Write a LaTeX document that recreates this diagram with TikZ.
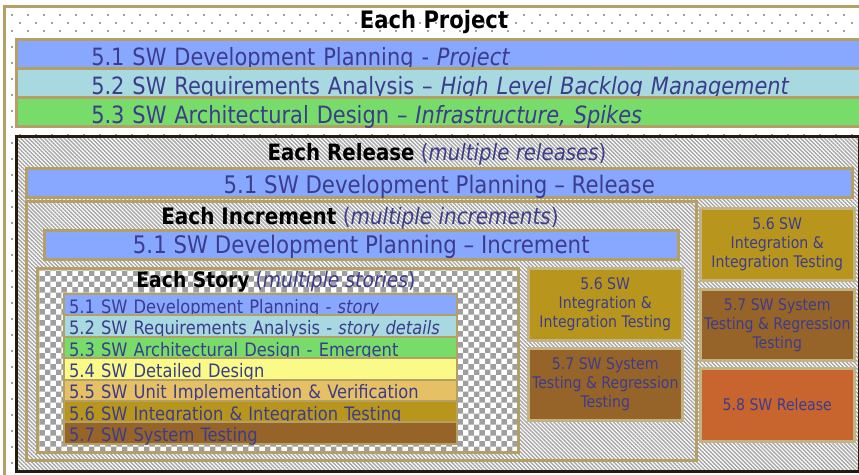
\documentclass[tikz,border=0pt]{standalone}
\usepackage{fontspec}
\setmainfont{DejaVu Sans}[FakeStretch=0.88]
\usetikzlibrary{patterns, patterns.meta}
\definecolor{wftan}{HTML}{B4A064}
\definecolor{wfblack}{HTML}{241C0C}
\definecolor{wftext}{HTML}{3C3C8C}
\definecolor{wfdot}{HTML}{A0A0A0}
\definecolor{plan}{HTML}{88A8FF}
\definecolor{reqs}{HTML}{A8D8E0}
\definecolor{arch}{HTML}{78DC6A}
\definecolor{detail}{HTML}{FAFA88}
\definecolor{unit}{HTML}{E6C064}
\definecolor{integ}{HTML}{B8961E}
\definecolor{systest}{HTML}{966428}
\definecolor{swrel}{HTML}{C8642E}
\newcommand{\rowfont}{\fontsize{23.8}{26}\selectfont}
\newcommand{\barfont}{\fontsize{24.2}{26}\selectfont}
\newcommand{\storyfont}{\fontsize{18.5}{20}\selectfont}
\newcommand{\boxfont}{\fontsize{16}{19}\selectfont}

\begin{document}
\begin{tikzpicture}[x=1pt, y=-1pt,
    frame/.style={anchor=north west, inner sep=0pt, draw=wftan, line width=2.5pt},
    hatch/.style={preaction={fill=white},
        pattern={Lines[angle=-45, distance=2.8pt, line width=1.4pt]}, pattern color=gray!70},
    checker/.style={preaction={fill=white}, pattern=checkerboard, pattern color=gray!75},
    title/.style={anchor=base, inner sep=0pt, text=black},
    projrow/.style={anchor=north west, draw=wftan, line width=2.5pt, text=wftext, font=\rowfont,
        minimum height=29pt, text width=770pt, inner xsep=75pt, inner ysep=0pt, align=left,
        text height=23pt, text depth=0pt},
    bar/.style={anchor=north west, draw=wftan, line width=2.5pt, fill=plan, text=wftext,
        font=\barfont, minimum height=29pt, inner sep=0pt},
    storyrow/.style={anchor=north west, draw=wftan, line width=2pt, text=wftext, font=\storyfont,
        minimum height=21.4pt, text width=383pt, inner xsep=5pt, inner ysep=0pt, align=left,
        text height=17pt, text depth=0pt},
    phasebox/.style={anchor=north west, draw=wftan!80, line width=2.5pt, text=wftext,
        font=\boxfont, minimum width=154pt, minimum height=72pt, inner sep=0pt, align=center}]
\useasboundingbox (0,0) rectangle (859,474);

% dotted paper
\foreach \j in {0,...,57}{
    \pgfmathsetmacro{\xo}{mod(\j,2)*8}
    \foreach \i in {0,...,53}
        \fill[wfdot] ({11+\xo+16*\i},{14+8*\j}) rectangle +(1.6,1.6);
}

% Each project
\node[frame, minimum width=880pt, minimum height=490pt] (project) at (3,5) {};
\node[title, font=\bfseries\fontsize{24}{26}\selectfont] (projtitle) at (434,28) {Each Project};
\node[projrow, fill=plan] (proj51) at (15,38) {5.1 SW Development Planning - \textit{Project}};
\node[projrow, fill=reqs] (proj52) at (15,67) {5.2 SW Requirements Analysis -- \textit{High Level Backlog Management}};
\node[projrow, fill=arch] (proj53) at (15,96) {5.3 SW Architectural Design -- \textit{Infrastructure, Spikes}};

% Each release
\node[frame, hatch, draw=wfblack, line width=3pt, minimum width=843pt, minimum height=335pt] (release) at (15,135) {};
\node[title, font=\fontsize{22.5}{25}\selectfont] (reltitle) at (437,160)
    {\textbf{Each Release} \textcolor{wftext}{(\textit{multiple releases})}};
\node[bar, minimum width=826pt, text height=21pt, text depth=0pt] (rel51) at (25,167)
    {5.1 SW Development Planning -- Release};
\node[phasebox, fill=integ] (rel56) at (699,207) {5.6 SW\\Integration \&\\Integration Testing};
\node[phasebox, fill=systest, minimum height=71pt] (rel57) at (699,288) {5.7 SW System\\Testing \& Regression\\Testing};
\node[phasebox, fill=swrel, minimum height=73pt] (rel58) at (699,367) {5.8 SW Release};

% Each increment
\node[frame, hatch, minimum width=670pt, minimum height=259pt] (increment) at (25,200) {};
\node[title, font=\fontsize{22.7}{25}\selectfont] (inctitle) at (360,224)
    {\textbf{Each Increment} \textcolor{wftext}{(\textit{multiple increments})}};
\node[bar, minimum width=634pt, text height=17pt, text depth=0pt] (inc51) at (43,229)
    {5.1 SW Development Planning -- Increment};
\node[phasebox, fill=integ] (inc56) at (527,267) {5.6 SW\\Integration \&\\Integration Testing};
\node[phasebox, fill=systest] (inc57) at (527,347) {5.7 SW System\\Testing \& Regression\\Testing};

% Each story
\node[frame, checker, minimum width=481pt, minimum height=184pt] (story) at (36,267) {};
\node[title, font=\fontsize{21.3}{23}\selectfont] (storytitle) at (276,287)
    {\textbf{Each Story} \textcolor{wftext}{(\textit{multiple stories})}};
\node[storyrow, fill=plan] (st51) at (63,293.0) {5.1 SW Development Planning - \textit{story}};
\node[storyrow, fill=reqs] (st52) at (63,314.4) {5.2 SW Requirements Analysis - \textit{story details}};
\node[storyrow, fill=arch] (st53) at (63,335.8) {5.3 SW Architectural Design - Emergent};
\node[storyrow, fill=detail] (st54) at (63,357.2) {5.4 SW Detailed Design};
\node[storyrow, fill=unit] (st55) at (63,378.6) {5.5 SW Unit Implementation \& Verification};
\node[storyrow, fill=integ] (st56) at (63,400.0) {5.6 SW Integration \& Integration Testing};
\node[storyrow, fill=systest] (st57) at (63,421.4) {5.7 SW System Testing};
\end{tikzpicture}
\end{document}
